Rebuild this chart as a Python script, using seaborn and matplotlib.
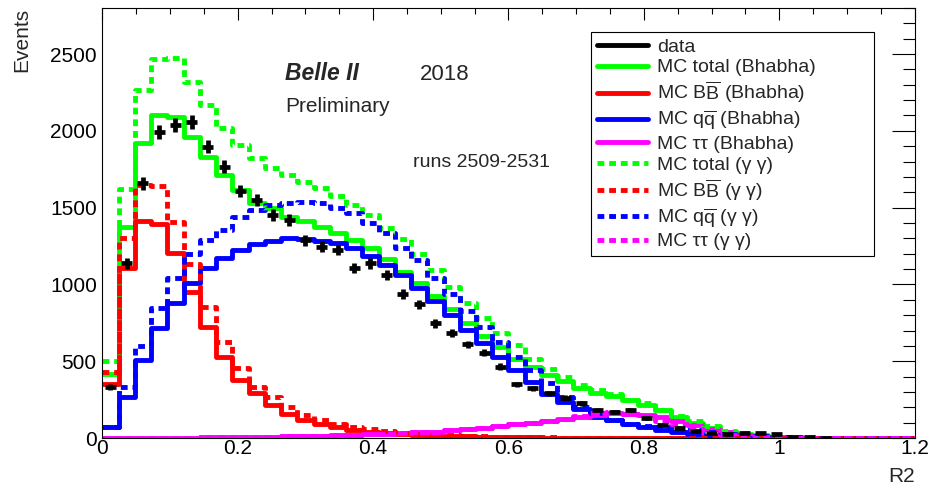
import numpy as np
import matplotlib
matplotlib.use("Agg")
import matplotlib.pyplot as plt
from matplotlib.lines import Line2D
from matplotlib.ticker import MultipleLocator, FuncFormatter
import seaborn as sns

# 50 bins of width 0.024 in R2
bin_edges = np.linspace(0.0, 1.2, 51)
bin_centers = 0.5 * (bin_edges[:-1] + bin_edges[1:])
bin_width = bin_edges[1] - bin_edges[0]

data_counts = [334, 1137, 1658, 1994, 2038, 2059, 1897, 1766, 1610, 1549,
               1452, 1419, 1289, 1246, 1224, 1105, 1137, 1061, 937, 872,
               746, 683, 610, 556, 464, 349, 323, 290, 262, 225,
               180, 170, 182, 130, 85, 68, 45, 35, 28, 30,
               33, 28, 8, 4, 2, 0, 0, 0, 0, 0]

total_bhabha = [420, 1376, 1918, 2103, 2092, 1962, 1832, 1712, 1615, 1528,
                1495, 1441, 1410, 1376, 1332, 1289, 1240, 1165, 1083, 1007,
                926, 840, 747, 665, 590, 515, 464, 410, 370, 323,
                291, 275, 248, 215, 180, 140, 100, 66, 42, 24,
                13, 7, 4, 2, 1, 0, 0, 0, 0, 0]

bb_bhabha = [350, 1105, 1415, 1393, 1202, 953, 725, 530, 378, 291,
             215, 158, 117, 92, 74, 55, 42, 33, 26, 20,
             16, 12, 10, 8, 6, 5, 4, 3, 3, 2,
             2, 1, 1, 1, 0, 0, 0, 0, 0, 0,
             0, 0, 0, 0, 0, 0, 0, 0, 0, 0]

qq_bhabha = [74, 269, 508, 714, 877, 1007, 1105, 1170, 1224, 1262,
             1283, 1300, 1295, 1285, 1272, 1235, 1185, 1126, 1061, 980,
             893, 800, 703, 616, 530, 443, 362, 286, 232, 186,
             140, 115, 92, 70, 55, 38, 26, 16, 10, 6,
             3, 2, 1, 0, 0, 0, 0, 0, 0, 0]

tautau_bhabha = [2, 2, 2, 3, 3, 3, 4, 4, 5, 6,
                 8, 10, 12, 14, 17, 20, 24, 28, 32, 36,
                 40, 50, 58, 68, 78, 88, 98, 110, 122, 138,
                 152, 160, 155, 150, 135, 112, 82, 58, 38, 20,
                 10, 5, 3, 1, 0, 0, 0, 0, 0, 0]

total_gg = [503, 1620, 2266, 2465, 2475, 2320, 2170, 2016, 1908, 1821,
            1755, 1712, 1669, 1625, 1575, 1515, 1452, 1370, 1295, 1195,
            1094, 985, 877, 779, 685, 605, 512, 450, 395, 345,
            315, 285, 250, 226, 182, 145, 112, 76, 48, 32,
            22, 15, 8, 4, 2, 1, 0, 0, 0, 0]

bb_gg = [430, 1300, 1650, 1640, 1405, 1135, 850, 627, 454, 330,
         265, 200, 150, 118, 92, 72, 56, 44, 35, 28,
         22, 17, 13, 10, 8, 6, 5, 4, 3, 3,
         2, 2, 1, 1, 1, 0, 0, 0, 0, 0,
         0, 0, 0, 0, 0, 0, 0, 0, 0, 0]

qq_gg = [72, 330, 600, 844, 1040, 1195, 1289, 1355, 1440, 1484,
         1517, 1530, 1537, 1530, 1495, 1465, 1400, 1332, 1240, 1159,
         1045, 935, 825, 725, 625, 525, 440, 356, 269, 204,
         160, 115, 92, 80, 72, 55, 50, 40, 25, 17,
         12, 8, 4, 2, 1, 0, 0, 0, 0, 0]

tautau_gg = [2, 2, 2, 3, 3, 3, 4, 4, 5, 6,
             8, 10, 12, 14, 17, 20, 24, 28, 32, 36,
             40, 50, 58, 68, 78, 88, 98, 110, 122, 142,
             160, 168, 155, 140, 110, 88, 58, 35, 22, 13,
             8, 5, 3, 2, 1, 0, 0, 0, 0, 0]

GAMMA = "\u03b3 \u03b3"
TAU = "\u03c4\u03c4"
legend_labels = ["data",
                 "MC total (Bhabha)",
                 r"MC B$\overline{\mathrm{B}}$ (Bhabha)",
                 r"MC q$\overline{\mathrm{q}}$ (Bhabha)",
                 "MC " + TAU + " (Bhabha)",
                 "MC total (" + GAMMA + ")",
                 r"MC B$\overline{\mathrm{B}}$ (" + GAMMA + ")",
                 r"MC q$\overline{\mathrm{q}}$ (" + GAMMA + ")",
                 "MC " + TAU + " (" + GAMMA + ")"]

GREEN, RED, BLUE, MAGENTA = "#00ff00", "#ff0000", "#0000ff", "#ff00ff"
LW = 3.5
DASHED = (0, (1.4, 1.0))

sns.set_theme(style="white")
plt.rcParams["font.family"] = ["Liberation Sans", "DejaVu Sans"]
plt.rcParams["mathtext.fontset"] = "custom"
plt.rcParams["mathtext.rm"] = "Liberation Sans"
plt.rcParams["mathtext.it"] = "Liberation Sans:italic"
plt.rcParams["mathtext.bf"] = "Liberation Sans:bold"

fig = plt.figure(figsize=(9.32, 4.90), dpi=100)
ax = fig.add_axes([0.1098, 0.1061, 0.8716, 0.8776])

series = [
    (total_bhabha, GREEN, "-"),
    (bb_bhabha, RED, "-"),
    (qq_bhabha, BLUE, "-"),
    (tautau_bhabha, MAGENTA, "-"),
    (total_gg, GREEN, DASHED),
    (bb_gg, RED, DASHED),
    (qq_gg, BLUE, DASHED),
    (tautau_gg, MAGENTA, DASHED),
]
edge_list = list(bin_edges)
for vals, col, ls in series:
    sns.histplot(x=bin_centers, weights=vals, bins=edge_list, element="step",
                 fill=False, color=col, linewidth=LW, linestyle=ls, ax=ax)

# data points with statistical errors
d = np.asarray(data_counts, dtype=float)
mask = d > 0
ax.errorbar(bin_centers[mask], d[mask], xerr=0.34 * bin_width,
            yerr=np.sqrt(d[mask]), fmt="none", ecolor="black",
            elinewidth=3.4, capsize=0, zorder=5)

ax.set_xlim(0, 1.2)
ax.set_ylim(0, 2800)
ax.xaxis.set_major_locator(MultipleLocator(0.2))
ax.xaxis.set_minor_locator(MultipleLocator(0.05))
ax.yaxis.set_major_locator(MultipleLocator(500))
ax.yaxis.set_minor_locator(MultipleLocator(100))
ax.xaxis.set_major_formatter(FuncFormatter(lambda v, p: f"{v:g}"))
ax.tick_params(which="both", direction="in", top=True, right=True,
               colors="black", width=0.8, labelsize=15)
ax.tick_params(axis="x", which="major", length=8.6, pad=1)
ax.tick_params(axis="x", which="minor", length=4.3)
ax.tick_params(axis="y", which="major", length=16.5, pad=4)
ax.tick_params(axis="y", which="minor", length=8.6)
ax.tick_params(axis="x", which="both", labeltop=False)
ax.tick_params(axis="y", which="both", labelright=False)
for sp in ax.spines.values():
    sp.set_color("black")
    sp.set_linewidth(0.8)

ax.set_ylabel("Events", fontsize=15, loc="top")
ax.yaxis.set_label_coords(-0.087, 1.0)
ax.set_xlabel("R2", fontsize=15, loc="right")
ax.xaxis.set_label_coords(1.0, -0.068)

ax.text(0.270, 2331, "Belle II", fontsize=16.5, fontweight="bold",
        fontstyle="italic", va="baseline", ha="left")
ax.text(0.4695, 2331, "2018", fontsize=16, va="baseline", ha="left")
ax.text(0.270, 2125, "Preliminary", fontsize=15, va="baseline", ha="left")
ax.text(0.459, 1765, "runs 2509-2531", fontsize=14, va="baseline", ha="left")

handles = [Line2D([0], [0], color="black", lw=LW)]
for col in (GREEN, RED, BLUE, MAGENTA):
    handles.append(Line2D([0], [0], color=col, lw=LW))
for col in (GREEN, RED, BLUE, MAGENTA):
    handles.append(Line2D([0], [0], color=col, lw=LW, linestyle=DASHED))

leg = ax.legend(handles, legend_labels, loc="upper left",
                bbox_to_anchor=(0.602, 0.428, 0.348, 0.516), mode="expand",
                borderaxespad=0, fontsize=14, frameon=True, fancybox=False,
                framealpha=1, edgecolor="black", handlelength=2.6,
                handletextpad=0.5, labelspacing=0.165, borderpad=0.3)
leg.get_frame().set_linewidth(0.8)
leg.set_zorder(10)

fig.savefig("out.png", dpi=100, facecolor="white")
